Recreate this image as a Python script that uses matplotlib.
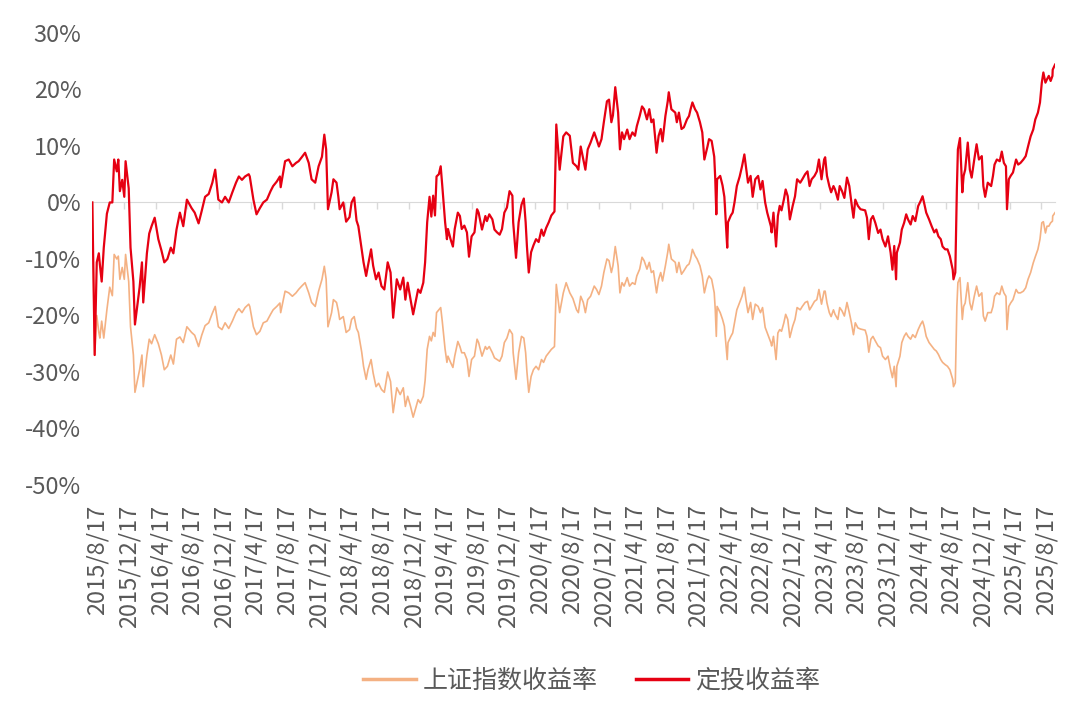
import matplotlib
matplotlib.use("Agg")
import matplotlib.pyplot as plt
import matplotlib.dates as mdates
import matplotlib.transforms as mtransforms
import pandas as pd

plt.rcParams["font.family"] = ["Noto Sans CJK SC", "DejaVu Sans"]

RED = "#E60012"
ORANGE = "#F4B183"
GRID = "#D9D9D9"
TEXT = "#595959"

# (date, 定投收益率 %, 上证指数收益率 %)
dates = [
    "2015-08-17", "2015-08-26", "2015-09-03", "2015-09-11", "2015-09-15", "2015-09-22", "2015-09-30",
    "2015-10-12", "2015-10-23", "2015-11-02", "2015-11-09", "2015-11-19", "2015-11-25", "2015-12-01",
    "2015-12-10", "2015-12-18", "2015-12-23", "2016-01-04", "2016-01-11", "2016-01-22", "2016-01-28",
    "2016-02-15", "2016-02-24", "2016-02-29", "2016-03-14", "2016-03-23", "2016-04-01", "2016-04-13",
    "2016-04-27", "2016-05-09", "2016-05-20", "2016-06-01", "2016-06-14", "2016-06-24", "2016-07-06",
    "2016-07-19", "2016-08-01", "2016-08-15", "2016-09-02", "2016-09-14", "2016-09-29", "2016-10-11",
    "2016-10-24", "2016-11-07", "2016-11-21", "2016-12-02", "2016-12-14", "2016-12-28", "2017-01-09",
    "2017-01-23", "2017-02-06", "2017-02-20", "2017-03-03", "2017-03-15", "2017-03-27", "2017-04-10",
    "2017-04-14", "2017-04-28", "2017-05-10", "2017-05-23", "2017-06-05", "2017-06-19", "2017-07-03",
    "2017-07-13", "2017-07-27", "2017-08-08", "2017-08-11", "2017-08-28", "2017-09-11", "2017-09-25",
    "2017-10-09", "2017-10-19", "2017-10-31", "2017-11-13", "2017-11-27", "2017-12-08", "2017-12-22",
    "2018-01-04", "2018-01-17", "2018-01-26", "2018-02-02", "2018-02-09", "2018-02-23", "2018-03-02",
    "2018-03-14", "2018-03-21", "2018-03-26", "2018-04-09", "2018-04-20", "2018-05-03", "2018-05-11",
    "2018-05-21", "2018-05-30", "2018-06-06", "2018-06-19", "2018-06-26", "2018-07-06", "2018-07-13",
    "2018-07-25", "2018-08-02", "2018-08-13", "2018-08-23", "2018-09-03", "2018-09-14", "2018-09-27",
    "2018-10-08", "2018-10-18", "2018-11-01", "2018-11-14", "2018-11-26", "2018-12-04", "2018-12-13",
    "2018-12-24", "2019-01-03", "2019-01-12", "2019-01-22", "2019-01-31",
    "2019-02-11", "2019-02-18", "2019-02-26", "2019-03-07", "2019-03-14", "2019-03-21", "2019-03-28",
    "2019-04-03", "2019-04-12", "2019-04-19", "2019-04-25", "2019-05-06", "2019-05-13", "2019-05-17",
    "2019-05-27", "2019-06-05", "2019-06-12", "2019-06-24", "2019-07-02", "2019-07-09", "2019-07-19",
    "2019-07-29", "2019-08-06", "2019-08-16", "2019-08-27", "2019-09-06", "2019-09-12", "2019-09-25",
    "2019-10-08", "2019-10-14", "2019-10-23", "2019-11-04", "2019-11-12", "2019-11-22", "2019-12-02",
    "2019-12-11", "2019-12-20", "2019-12-30", "2020-01-09", "2020-01-20", "2020-01-23", "2020-02-03",
    "2020-02-13", "2020-02-24", "2020-03-04", "2020-03-11", "2020-03-16", "2020-03-23", "2020-04-01",
    "2020-04-10", "2020-04-20", "2020-04-30", "2020-05-11", "2020-05-19", "2020-05-29", "2020-06-08",
    "2020-06-18", "2020-06-30", "2020-07-07", "2020-07-20", "2020-08-03", "2020-08-14", "2020-08-28",
    "2020-09-09", "2020-09-23", "2020-09-30",
    "2020-10-09", "2020-10-19", "2020-10-27", "2020-11-05", "2020-11-16", "2020-11-30", "2020-12-09",
    "2020-12-18", "2020-12-28", "2021-01-06", "2021-01-18", "2021-01-26", "2021-02-04", "2021-02-10",
    "2021-02-19", "2021-03-02", "2021-03-09", "2021-03-17", "2021-03-25", "2021-04-06", "2021-04-15",
    "2021-04-26", "2021-05-06", "2021-05-13", "2021-05-24", "2021-06-02", "2021-06-10", "2021-06-21",
    "2021-06-30", "2021-07-08", "2021-07-16", "2021-07-28", "2021-08-05", "2021-08-13", "2021-08-20",
    "2021-08-31", "2021-09-09", "2021-09-13", "2021-09-23", "2021-10-08", "2021-10-14", "2021-10-22",
    "2021-11-01", "2021-11-10", "2021-11-22", "2021-11-30", "2021-12-06", "2021-12-13", "2021-12-23",
    "2021-12-31", "2022-01-11", "2022-01-20", "2022-01-28", "2022-02-09", "2022-02-15", "2022-02-25",
    "2022-03-07", "2022-03-11", "2022-03-15", "2022-03-18", "2022-03-30", "2022-04-08", "2022-04-15",
    "2022-04-26", "2022-04-29", "2022-05-10", "2022-05-17", "2022-05-24", "2022-06-02", "2022-06-13",
    "2022-06-22", "2022-07-01", "2022-07-07", "2022-07-15", "2022-07-25",
    "2022-08-02", "2022-08-12", "2022-08-23", "2022-09-01", "2022-09-09", "2022-09-19", "2022-09-27",
    "2022-10-11", "2022-10-14", "2022-10-21", "2022-10-31", "2022-11-07", "2022-11-14", "2022-11-21",
    "2022-11-30", "2022-12-07", "2022-12-15", "2022-12-23", "2023-01-03", "2023-01-12", "2023-01-20",
    "2023-02-01", "2023-02-09", "2023-02-20", "2023-03-01", "2023-03-09", "2023-03-17", "2023-03-28",
    "2023-04-06", "2023-04-14", "2023-04-24", "2023-05-04", "2023-05-08", "2023-05-15", "2023-05-24",
    "2023-05-31", "2023-06-09", "2023-06-15", "2023-06-26", "2023-07-03", "2023-07-12", "2023-07-21",
    "2023-07-31", "2023-08-09", "2023-08-17", "2023-08-25", "2023-09-01", "2023-09-11", "2023-09-21",
    "2023-10-09", "2023-10-16", "2023-10-23", "2023-10-31", "2023-11-08", "2023-11-17", "2023-11-28",
    "2023-12-07", "2023-12-15", "2023-12-26", "2024-01-05", "2024-01-15", "2024-01-22", "2024-01-29",
    "2024-02-05", "2024-02-08", "2024-02-20", "2024-02-27", "2024-03-07", "2024-03-15", "2024-03-22",
    "2024-04-01", "2024-04-09", "2024-04-19",
    "2024-04-30", "2024-05-09", "2024-05-17", "2024-05-23", "2024-05-31", "2024-06-11", "2024-06-21",
    "2024-07-01", "2024-07-09", "2024-07-17", "2024-07-26", "2024-08-02", "2024-08-12", "2024-08-21",
    "2024-08-30", "2024-09-10", "2024-09-13", "2024-09-20", "2024-09-26", "2024-09-30", "2024-10-08",
    "2024-10-17", "2024-10-22", "2024-10-28", "2024-11-07", "2024-11-15", "2024-11-22", "2024-12-02",
    "2024-12-11", "2024-12-20", "2024-12-31", "2025-01-06", "2025-01-13", "2025-01-23", "2025-02-05",
    "2025-02-12", "2025-02-18", "2025-02-27", "2025-03-10", "2025-03-18", "2025-03-26", "2025-04-03",
    "2025-04-07", "2025-04-14", "2025-04-21", "2025-04-30", "2025-05-12", "2025-05-20", "2025-05-29",
    "2025-06-09", "2025-06-18", "2025-06-27", "2025-07-07", "2025-07-17", "2025-07-25", "2025-08-04",
    "2025-08-12", "2025-08-19", "2025-08-25", "2025-09-02", "2025-09-08", "2025-09-15", "2025-09-22",
    "2025-09-29", "2025-09-30", "2025-10-09",
]

dca_return = [
    0, -27, -10.6, -9, -11, -14, -8,
    -2, 0, 0, 7.6, 5.5, 7.6, 2,
    4, 1, 7.3, 2.5, -8, -14, -21.6,
    -15, -10.6, -17.7, -9, -5.5, -4.2, -2.7,
    -6.5, -8.5, -10.6, -10, -8, -9, -4.8,
    -1.8, -4.2, 0.5, -1, -1.8, -3.7, -1.5,
    1, 1.5, 3.5, 5.8, 0.5, 0, 1,
    0, 1.8, 3.5, 4.6, 4, 4.6, 5,
    4.6, 0.5, -2.1, -1, 0, 0.5, 2,
    2.9, 3.7, 4.6, 2.7, 7.3, 7.6, 6.4,
    7.0, 7.3, 8, 8.8, 7, 4.1, 3.5,
    6.4, 8.1, 12, 9.4, -1.2, 1.8, 4.1,
    3.5, 1, -1.2, 0, -3.4, -2.6, 0,
    0.9, -3.2, -4.2, -8.3, -10.6, -13, -11.2,
    -8.3, -11.2, -13.6, -12.4, -14.8, -15.4, -10.6,
    -12.4, -20.4, -13.6, -15.4, -13.3, -17.2, -14.2,
    -17.2, -19.8, -17.7, -15.4, -16,
    -14.2, -10.6, -3.5, 1, -2.5, 1.2, -2.3,
    4.6, 5, 6.4, 3, -3.5, -6.5, -4.7,
    -6.5, -7.8, -4.7, -1.8, -2.4, -4.7, -4.1,
    -5.3, -9.6, -6, -5.3, -1.2, -1.8, -4.8,
    -2.4, -3.3, -2.1, -3, -4.8, -5.3, -5.7,
    -4.7, -1.8, -0.9, 2, 1.2, -3.5, -9.8,
    -3.5, -0.4, 0.7, -3.5, -7.8, -12.4, -8.8,
    -7.6, -6.5, -7, -4.8, -5.9, -4.5, -3.5,
    -2.3, -1.6, 13.8, 5.8, 11.7, 12.4, 11.8,
    7, 6.4, 5.8,
    9.9, 7.6, 5.8, 9.4, 10.6, 12.4, 11.2,
    9.9, 11.2, 14.2, 17.9, 18.2, 14.2, 15.4,
    20.4, 15.9, 9.4, 12.4, 11.2, 12.9, 11.2,
    12.4, 11.8, 13.5, 15.3, 17, 16.5, 14.7,
    16.5, 14.2, 14.7, 8.8, 11.8, 13, 10.8,
    15.3, 17.9, 19.5, 16.5, 15.9, 14.2, 15.9,
    13, 13.3, 14.7, 15.3, 16.5, 17.7, 16.5,
    15.9, 14.2, 12.4, 7.6, 9.9, 11.2, 10.9,
    8.1, 4.1, -2.1, 4.1, 4.7, 3, 1,
    -8, -3.5, -2.3, -1.8, 0, 2.9, 4.6,
    6.4, 8.5, 6.4, 3.5, 4.7,
    1, 4.1, 4.7, 2.3, 3.8, 0, -1.8,
    -4.2, -5.3, -1.8, -7.8, -2.4, -0.6, -1.4,
    0.5, 2.3, 1.1, -3, -0.6, 1.1, 4.1,
    3.5, 4.1, 5, 5.5, 2.9, 4.1, 4.7,
    5.5, 7.6, 4.1, 7.6, 8, 4.7, 2.9,
    1.8, 2.9, 2.3, 0.5, 2.9, 2, 0.8,
    4.4, 2.9, 0, -2.7, 0.5, -0.6, -1.2,
    -1.4, -2.7, -6.5, -3, -2.4, -3.6, -5.4,
    -4.8, -6.5, -7.8, -6, -8.9, -11.9, -7.7,
    -13.6, -8.9, -7.1, -4.8, -3.6, -2.1, -3,
    -3.9, -2.4, -3.3,
    -0.65, 0.2, 1.1, -0.1, -1.8, -3, -4.2,
    -5.3, -4.8, -6, -6.5, -7.8, -8.3, -8.3,
    -9.5, -11.9, -13.6, -12.4, 2.3, 9.4, 11.4,
    1.8, 4.7, 5.8, 10.6, 5.8, 4.4, 7.6,
    10.3, 7.6, 8.2, 2.9, 1, 3.5, 2.9,
    4.7, 6.7, 7.6, 7.3, 9, 7, 6.4,
    -1.2, 4.1, 4.7, 5.3, 7.6, 6.7, 7,
    7.6, 8.2, 9.9, 11.7, 12.9, 14.7, 15.9,
    17.7, 21.2, 23, 21.2, 21.8, 22.4, 21.5,
    22.4, 23.5, 24.4,
]

index_return = [
    0, -27, -20, -23, -24, -21, -24,
    -19, -15, -16.5, -9.2, -10, -9.5, -13.6,
    -11.5, -13.6, -9.2, -14, -22, -27, -33.6,
    -29.6, -27, -32.6, -27, -24.2, -25, -23.4,
    -25, -27, -29.6, -29, -27, -28.6, -24.2,
    -23.8, -24.8, -22, -23, -23.5, -25.5, -23.5,
    -21.8, -21.3, -19.6, -18.4, -22, -22.5, -21.3,
    -22.3, -21, -19.5, -18.8, -19.5, -18.6, -18,
    -18.4, -22, -23.4, -22.8, -21.3, -21, -19.8,
    -19, -18.4, -17.8, -19.5, -15.7, -16, -16.6,
    -16, -15.4, -14.8, -14.2, -16, -17.7, -18.4,
    -15.7, -13.6, -11.3, -13.6, -22, -19.5, -17.2,
    -17.7, -19.2, -20.7, -20.2, -23, -22.5, -20.7,
    -20.2, -22.3, -23, -26.5, -29, -31.3, -29.6,
    -27.8, -30.2, -32.6, -32, -33.1, -33.6, -30,
    -31.7, -37.2, -32.8, -34, -32.8, -36.1, -34.3,
    -36.1, -38, -36.5, -34.9, -35.5,
    -34.3, -31.5, -26, -23.7, -24.5, -23, -23.7,
    -19.5, -19, -18.6, -21, -26, -28.3, -27.2,
    -28.3, -29.2, -27.2, -24.6, -25.5, -26.6, -26.6,
    -27.8, -30.8, -27.8, -27.2, -24.2, -24.8, -27.2,
    -25.5, -26, -25.5, -26.6, -27.5, -27.8, -28.1,
    -27.2, -24.8, -24, -22.5, -23.3, -26.6, -31.3,
    -26.6, -23.7, -24, -26.6, -30, -33.6, -30.8,
    -29.6, -29, -29.6, -27.8, -28.3, -27.2, -26.6,
    -26, -25.5, -14.5, -19.5, -16, -14.2, -16,
    -17, -19, -19.5,
    -16.6, -17.7, -19.5, -17.2, -16.6, -14.8, -15.4,
    -16.3, -14.8, -12.4, -10, -10.3, -12.4, -11.2,
    -7.8, -11.2, -16, -14.2, -14.8, -13.3, -14.8,
    -14.2, -14.5, -13, -11.8, -9.7, -10.3, -11.8,
    -10.6, -12.4, -12.1, -16, -13.6, -12.4, -13.9,
    -11.2, -8.8, -7.4, -10, -10.6, -12.4, -10.6,
    -12.7, -12.1, -11.2, -10.9, -10, -8.3, -9.4,
    -10, -11.2, -13, -16, -13.6, -13, -13.6,
    -16, -19, -23.7, -18.4, -19.5, -20.7, -21.9,
    -27.8, -24.8, -23.7, -23.1, -21.3, -19, -17.7,
    -16.6, -15, -17.2, -19.5, -17.7,
    -20.7, -18, -18.4, -19.5, -18.6, -22.1, -23.1,
    -24.8, -25.4, -23.7, -27.8, -23.1, -22.5, -22.8,
    -21.3, -19.8, -20.7, -23.9, -21.9, -20.7, -18.6,
    -19, -18.4, -17.7, -17.5, -19, -18.4, -17.5,
    -17.2, -15.4, -18, -15.7, -15.7, -17.8, -19.5,
    -20.2, -19, -19.8, -20.7, -18.6, -19.2, -20.1,
    -17.7, -19.5, -21.3, -23.4, -21.3, -22.2, -22.4,
    -22.6, -23.7, -26.5, -24.2, -23.7, -24.5, -25.4,
    -25.7, -27.2, -27.8, -27.2, -29.6, -31, -29,
    -32.6, -29, -27.2, -24.8, -23.7, -23.1, -23.7,
    -24.2, -23.4, -23.9,
    -22.5, -21.6, -21, -21.9, -23.7, -24.8, -25.4,
    -26, -26.3, -26.9, -27.8, -28.3, -28.7, -29,
    -29.6, -31.3, -32.6, -31.9, -18.4, -14.2, -13.3,
    -20.7, -18.4, -17.8, -14.2, -17.8, -19, -16.6,
    -14.8, -16.6, -16, -20.1, -21, -19.5, -19.5,
    -18.4, -16.6, -16, -16.3, -14.8, -16, -16.6,
    -22.5, -18.4, -17.8, -17.2, -15.4, -16, -16,
    -15.7, -15.1, -13.6, -12.4, -10.7, -9.6, -8.3,
    -6.5, -3.6, -3.4, -5.4, -4.2, -4.2, -3.6,
    -3.3, -2.4, -1.8,
]

y_ticks = [-50, -40, -30, -20, -10, 0, 10, 20, 30]
x_tick_dates = pd.date_range("2015-08-17", "2025-08-17", freq=pd.DateOffset(months=4))

x = pd.to_datetime(dates)

fig = plt.figure(figsize=(10.8, 7.13), dpi=100)
ax = fig.add_axes([0.0855, 0.3198, 0.8914, 0.634])

ax.plot(x, index_return, color=ORANGE, linewidth=1.2, label="上证指数收益率", zorder=2)
ax.plot(x, dca_return, color=RED, linewidth=1.6, label="定投收益率", zorder=3)

ax.set_xlim(x[0], x[-1])
ax.set_ylim(-50, 30)
ax.set_yticks(y_ticks)
ax.set_yticklabels([f"{v}%" for v in y_ticks])
ax.tick_params(axis="y", length=0, pad=8, labelsize=17, labelcolor=TEXT)

# zero line with small tick marks, labels sit at the bottom on a twin axis
for side in ["left", "right", "top"]:
    ax.spines[side].set_visible(False)
ax.spines["bottom"].set_position(("data", 0))
ax.spines["bottom"].set_color(GRID)
ax.spines["bottom"].set_zorder(1)
ax.set_xticks(x_tick_dates)
ax.tick_params(axis="x", direction="out", length=5, width=1, color=GRID, labelbottom=False)

ax2 = ax.twiny()
ax2.set_xlim(ax.get_xlim())
ax2.xaxis.set_ticks_position("bottom")
ax2.set_xticks(mdates.date2num(x_tick_dates))
ax2.set_xticklabels([f"{d.year}/{d.month}/{d.day}" for d in x_tick_dates], rotation=90)
ax2.tick_params(axis="x", length=0, pad=14, labelsize=17, labelcolor=TEXT)
for side in ["left", "right", "top", "bottom"]:
    ax2.spines[side].set_visible(False)
shift = mtransforms.ScaledTranslation(5 / 100, 0, fig.dpi_scale_trans)
for lbl in ax2.get_xticklabels():
    lbl.set_transform(lbl.get_transform() + shift)

handles, labels = ax.get_legend_handles_labels()
leg = fig.legend(handles, labels, loc="center", bbox_to_anchor=(0.548, 0.045), ncol=2,
                 frameon=False, fontsize=18, handlelength=2.1, handletextpad=0.3,
                 columnspacing=1.5, labelcolor=TEXT)
for line in leg.get_lines():
    line.set_linewidth(2.5)

fig.savefig("out.png", dpi=100)
plt.close(fig)
